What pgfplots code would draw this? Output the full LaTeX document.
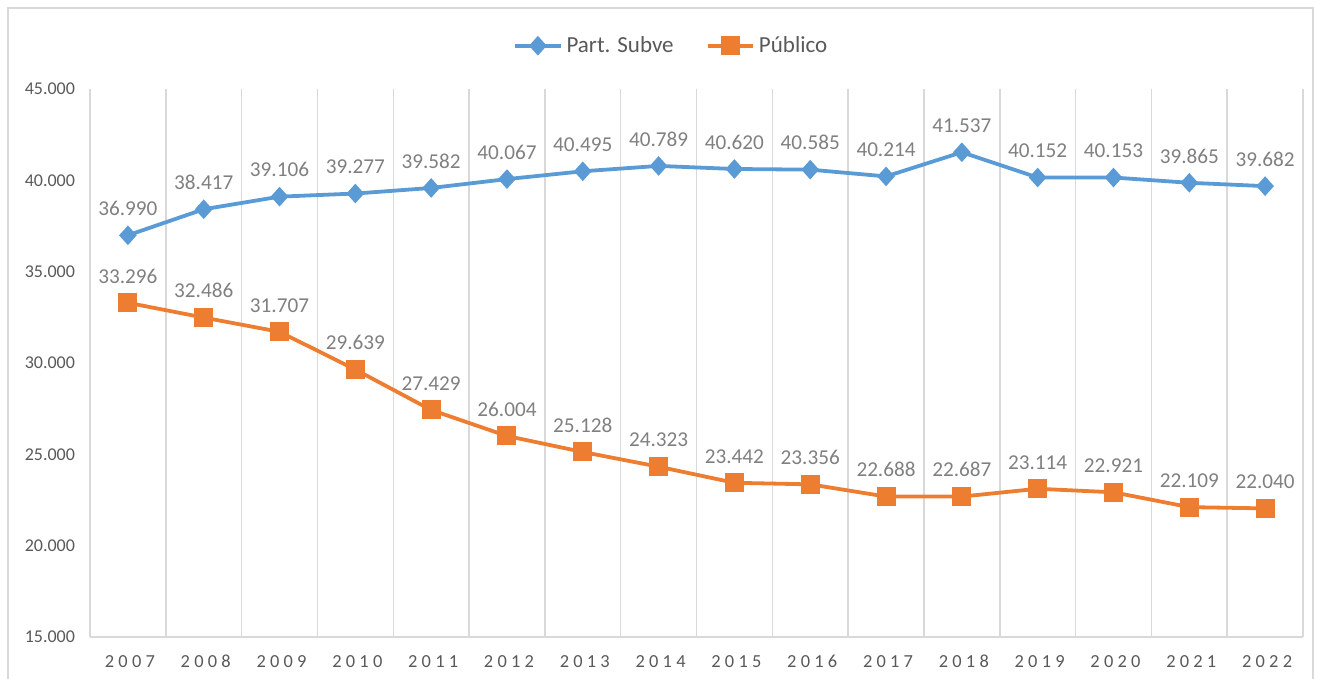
\documentclass[border=0pt]{standalone}
\usepackage{fontspec}
\setmainfont{Carlito}
\usepackage{pgfplots}
\pgfplotsset{compat=1.18}
\definecolor{cblue}{HTML}{5B9BD5}
\definecolor{corange}{HTML}{ED7D31}
\definecolor{gridgray}{HTML}{D9D9D9}
\definecolor{ticktext}{HTML}{595959}
\definecolor{labeltext}{HTML}{808080}
\begin{document}
\begin{tikzpicture}
\path[use as bounding box] (0,0) rectangle (658.5pt,339.5pt);
\draw[gridgray, line width=0.75pt] (4pt,-5pt) -- (4pt,335.5pt) -- (656.5pt,335.5pt) -- (656.5pt,-5pt);
\begin{axis}[
  at={(45pt,21pt)}, anchor=south west,
  scale only axis, width=606.5pt, height=274pt,
  xmin=-0.5, xmax=15.5, ymin=15000, ymax=45000,
  xtick={0,...,15},
  xticklabels={2007,2008,2009,2010,2011,2012,2013,2014,2015,2016,2017,2018,2019,2020,2021,2022},
  minor xtick={-0.5,0.5,...,15.5},
  xminorgrids, minor x grid style={gridgray, line width=0.75pt},
  ytick={15000,20000,...,45000},
  scaled y ticks=false,
  /pgf/number format/.cd, 1000 sep={.}, assume math mode=true, /pgfplots/.cd,
  major tick length=0pt, minor tick length=0pt,
  axis lines=left, axis line style={-},
  x axis line style={draw=gridgray, line width=0.75pt},
  y axis line style={draw=none},
  tick label style={text=ticktext, font=\fontsize{9}{10}\selectfont},
  xticklabel style={font=\fontsize{9.2}{10}\selectfont\addfontfeatures{LetterSpace=23}, anchor=base, yshift=-15.5pt, xshift=1pt},
  yticklabel style={xshift=-4pt},
  nodes near coords,
  every node near coord/.append style={text=labeltext, font=\fontsize{10.6}{12}\selectfont, yshift=5.5pt},
  legend columns=2,
  legend style={draw=none, at={(axis description cs:0.48,1.079)}, anchor=center,
    font=\fontsize{11.5}{13}\selectfont, text=ticktext,
    /tikz/every even column/.append style={column sep=14pt}},
  legend image code/.code={\draw[mark repeat=2,mark phase=2] plot coordinates {(0cm,0cm) (0.4cm,0cm) (0.8cm,0cm)};},
]
\addplot[cblue, line width=1.9pt, mark=diamond*, mark size=3.5pt, mark options={xscale=1.2}] coordinates {
(0,36990) (1,38417) (2,39106) (3,39277) (4,39582) (5,40067) (6,40495) (7,40789)
(8,40620) (9,40585) (10,40214) (11,41537) (12,40152) (13,40153) (14,39865) (15,39682)};
\addlegendentry{Part. Subve}
\addplot[corange, line width=1.9pt, mark=square*, mark size=3.8pt] coordinates {
(0,33296) (1,32486) (2,31707) (3,29639) (4,27429) (5,26004) (6,25128) (7,24323)
(8,23442) (9,23356) (10,22688) (11,22687) (12,23114) (13,22921) (14,22109) (15,22040)};
\addlegendentry{Público}
\end{axis}
\end{tikzpicture}
\end{document}
